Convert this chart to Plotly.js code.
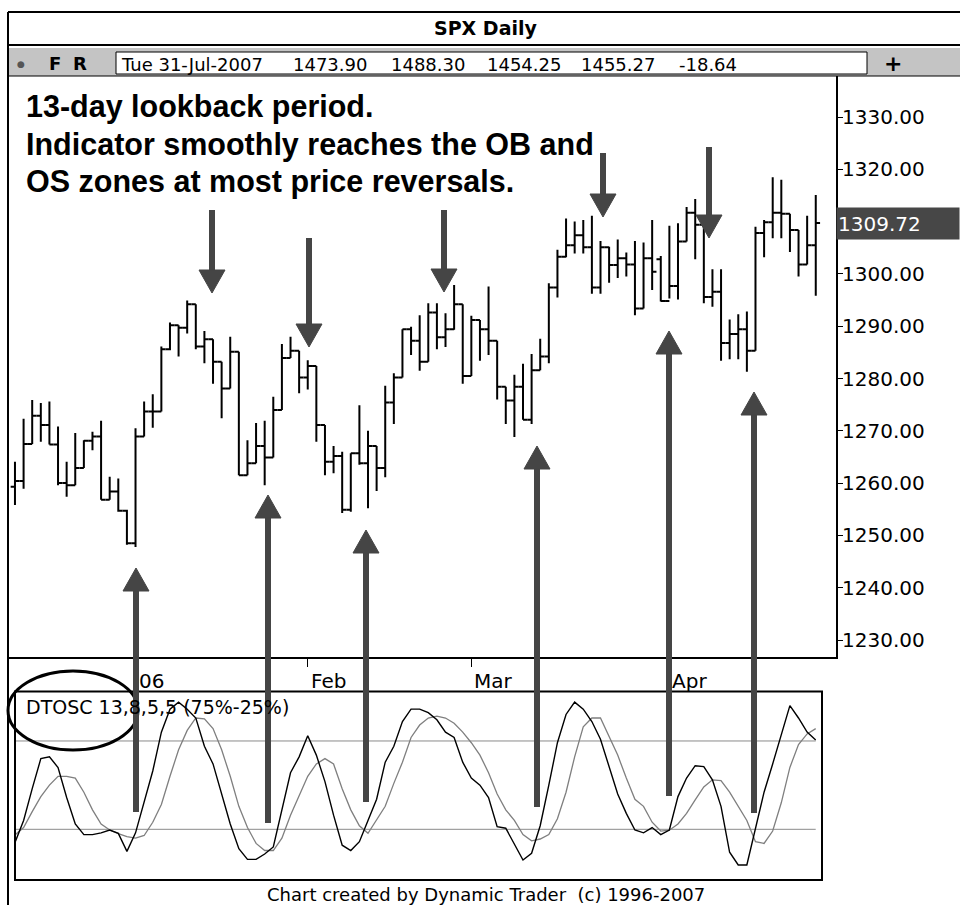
<!DOCTYPE html>
<html>
<head>
<meta charset="utf-8">
<script src="https://cdn.plot.ly/plotly-3.0.1.min.js"></script>
<style>
  html, body { margin: 0; padding: 0; background: #fff; }
  #chart { width: 960px; height: 905px; }
</style>
</head>
<body>
<div id="chart"></div>
<script>
// SPX daily bars, Dec 12 2005 .. Apr 27 2006 (bar index 0..93)
const openPx = [1259.3, 1260.4, 1267.5, 1272.9, 1271.1, 1267.4, 1260.0, 1259.6, 1262.9, 1268.1,
  1268.9, 1256.8, 1258.4, 1254.7, 1248.5, 1268.9, 1273.7, 1273.7, 1285.6, 1290.2,
  1289.7, 1294.2, 1286.1, 1287.5, 1283.2, 1278.1, 1285.1, 1261.5, 1263.8, 1267.1,
  1264.9, 1274.0, 1283.9, 1285.3, 1280.2, 1282.4, 1271.1, 1264.1, 1265.2, 1254.9,
  1265.7, 1263.8, 1267.1, 1262.9, 1275.4, 1280.2, 1289.4, 1287.2, 1283.2, 1292.6,
  1287.9, 1289.4, 1294.2, 1280.5, 1291.2, 1289.4, 1287.2, 1278.4, 1275.8, 1278.4,
  1272.1, 1281.6, 1284.2, 1297.4, 1303.3, 1305.5, 1307.4, 1305.1, 1297.4, 1305.1,
  1301.7, 1303.0, 1301.8, 1293.4, 1303.0, 1302.8, 1294.8, 1297.7, 1306.2, 1311.7,
  1309.4, 1295.6, 1296.6, 1286.8, 1288.5, 1289.4, 1285.3, 1307.8, 1309.9, 1311.7,
  1311.5, 1308.4, 1301.8, 1305.5];
const highPx = [1264.1, 1272.3, 1275.9, 1275.3, 1275.6, 1270.8, 1264.1, 1269.6, 1268.2, 1269.8,
  1271.9, 1261.2, 1260.9, 1254.9, 1270.5, 1275.6, 1277.0, 1286.1, 1290.7, 1290.2,
  1294.9, 1294.2, 1289.1, 1287.5, 1283.2, 1288.0, 1285.1, 1268.2, 1271.5, 1271.9,
  1276.5, 1286.6, 1288.0, 1285.3, 1283.5, 1282.4, 1271.1, 1267.1, 1266.0, 1265.7,
  1274.9, 1270.0, 1267.1, 1278.6, 1281.0, 1289.4, 1289.9, 1292.1, 1294.4, 1294.4,
  1292.5, 1297.9, 1294.2, 1292.0, 1291.2, 1297.6, 1287.2, 1278.4, 1280.7, 1282.8,
  1284.7, 1287.6, 1298.2, 1304.6, 1310.6, 1310.0, 1310.3, 1311.1, 1306.3, 1305.2,
  1306.6, 1304.1, 1306.3, 1306.0, 1310.3, 1303.4, 1309.2, 1309.7, 1312.8, 1314.3,
  1309.4, 1300.9, 1300.9, 1291.3, 1292.3, 1292.8, 1309.0, 1310.3, 1318.5, 1318.0,
  1311.5, 1308.4, 1311.1, 1315.1];
const lowPx = [1255.8, 1258.9, 1267.5, 1267.9, 1267.4, 1259.6, 1257.4, 1259.6, 1262.9, 1266.3,
  1256.8, 1256.8, 1254.5, 1248.2, 1247.8, 1268.9, 1270.6, 1273.7, 1285.4, 1284.2,
  1288.6, 1285.6, 1282.9, 1279.0, 1272.4, 1278.1, 1261.5, 1261.5, 1263.8, 1259.6,
  1264.9, 1274.0, 1283.9, 1277.2, 1277.9, 1267.9, 1261.5, 1261.9, 1254.3, 1254.5,
  1263.5, 1255.2, 1258.5, 1261.1, 1271.3, 1280.2, 1284.5, 1281.5, 1283.2, 1285.6,
  1286.0, 1289.3, 1279.0, 1280.5, 1283.4, 1284.5, 1276.0, 1271.3, 1268.8, 1272.1,
  1271.3, 1281.6, 1282.9, 1295.5, 1303.2, 1303.9, 1303.9, 1296.2, 1296.2, 1298.3,
  1299.2, 1299.5, 1292.1, 1293.4, 1296.9, 1294.7, 1295.3, 1295.1, 1306.2, 1302.8,
  1294.4, 1293.7, 1283.4, 1283.7, 1283.7, 1281.3, 1285.3, 1303.2, 1306.8, 1306.8,
  1304.2, 1299.5, 1301.8, 1295.8];
const closePx = [1260.4, 1267.5, 1272.9, 1271.1, 1267.4, 1260.0, 1259.6, 1262.9, 1268.1, 1268.9,
  1256.8, 1258.4, 1254.7, 1248.5, 1268.9, 1273.7, 1273.7, 1285.6, 1290.2, 1289.7,
  1294.2, 1286.1, 1287.5, 1283.2, 1278.1, 1285.1, 1261.5, 1263.8, 1267.1, 1264.9,
  1274.0, 1283.9, 1285.3, 1280.2, 1282.4, 1271.1, 1264.1, 1265.2, 1254.9, 1265.7,
  1263.8, 1267.1, 1262.9, 1275.4, 1280.2, 1289.4, 1287.2, 1283.2, 1292.6, 1287.9,
  1289.4, 1294.2, 1280.5, 1291.2, 1289.4, 1287.2, 1278.4, 1275.8, 1278.4, 1272.1,
  1281.6, 1284.2, 1297.4, 1303.3, 1305.5, 1307.4, 1305.1, 1297.4, 1305.1, 1301.7,
  1303.0, 1301.8, 1293.4, 1303.0, 1300.4, 1294.8, 1297.7, 1306.2, 1311.7, 1309.4,
  1295.6, 1296.6, 1286.8, 1288.5, 1289.4, 1285.3, 1307.8, 1309.9, 1311.7, 1311.5,
  1308.4, 1301.8, 1305.5, 1309.72];

// DTOSC 13,8,5,5 : fast (black) and slow (gray) lines
const dtoscFast = [17.5, 30, 48, 65, 66, 60, 43, 28, 22, 22,
  23, 24.6, 22.7, 12.5, 23, 41, 58, 80, 93, 97,
  93, 88, 72, 62, 45, 28, 14, 8, 8, 11,
  15, 36, 57, 66, 78, 67, 52, 33, 16, 13,
  18, 30, 42, 63, 72, 86, 93, 93, 91, 87,
  80, 77, 63, 54, 50, 43, 26.5, 25.6, 17, 7.6,
  11.4, 27, 50, 74, 90, 97, 93, 86, 76, 60,
  45, 34, 24.6, 23, 26, 22, 24.6, 43.5, 54, 61,
  60.5, 53, 38, 12, 4.8, 4.8, 26, 46, 62, 79,
  95, 88, 80, 75.6];
const dtoscSlow = [21.8, 26, 35, 43.5, 50, 55, 55, 54, 46, 36,
  28, 24.6, 22.5, 20.8, 20, 21.5, 29, 39, 55, 70,
  81, 88, 87.5, 82, 70, 55, 38, 26, 17, 13,
  13, 20, 33, 44, 55, 62, 65, 62, 48, 36,
  27, 22.7, 30, 38, 51, 63, 77, 84, 88, 89,
  88, 85, 80, 74, 67, 57, 45, 36, 30, 22,
  18.5, 19.5, 22, 31, 46, 66, 83, 88, 88, 77,
  67, 54, 42, 38, 29, 24, 24.5, 28, 34, 41.6,
  49, 53, 52.5, 46, 38, 30, 18, 17, 24, 40,
  60, 73, 79, 82];
const obLevel = 75;
const osLevel = 25;

const barIdx = closePx.map((_, i) => i);
const monthTickIdx = [14, 34, 53, 76];
const monthTickText = ['06', 'Feb', 'Mar', 'Apr'];
const priceTicks = [1230, 1240, 1250, 1260, 1270, 1280, 1290, 1300, 1320, 1330];

const infoDate = 'Tue 31-Jul-2007';
const infoValues = ['1473.90', '1488.30', '1454.25', '1455.27', '-18.64'];
const noteLines = ['13-day lookback period.',
  'Indicator smoothly reaches the OB and',
  'OS zones at most price reversals.'];

// pixel -> paper helpers
const W = 960, H = 905;
const px = x => x / W;
const py = y => 1 - y / H;

const FONT = 'DejaVu Sans, Verdana, sans-serif';
const ARROW = '#454545';

// arrows in pixels: x, tip, tail
const arrows = [
  { x: 212, tip: 293, tail: 210 },
  { x: 309, tip: 347, tail: 238 },
  { x: 444, tip: 292, tail: 210 },
  { x: 603, tip: 217, tail: 153 },
  { x: 709, tip: 238, tail: 147 },
  { x: 136, tip: 568, tail: 812 },
  { x: 268, tip: 495, tail: 823 },
  { x: 366, tip: 530, tail: 802 },
  { x: 537, tip: 446, tail: 807 },
  { x: 669, tip: 331, tail: 796 },
  { x: 754, tip: 392, tail: 813 }
];

function arrowShapes(a) {
  const dir = a.tail > a.tip ? 1 : -1;
  const headLen = 23, half = 13;
  const base = a.tip + dir * headLen;
  return [
    { type: 'line', xref: 'paper', yref: 'paper',
      x0: px(a.x), x1: px(a.x), y0: py(a.tail), y1: py(base - dir * 2),
      line: { color: ARROW, width: 6 } },
    { type: 'path', xref: 'paper', yref: 'paper',
      path: 'M ' + px(a.x - half) + ' ' + py(base) + ' L ' + px(a.x + half) + ' ' + py(base) +
            ' L ' + px(a.x) + ' ' + py(a.tip) + ' Z',
      fillcolor: ARROW, line: { color: ARROW, width: 1 } }
  ];
}

// text helper: pixel-placed annotation
function label(text, x, y, size, opts) {
  return Object.assign({
    text: text, xref: 'paper', yref: 'paper', x: px(x), y: py(y),
    xanchor: 'center', yanchor: 'middle', showarrow: false,
    font: { family: FONT, size: size, color: '#000' }
  }, opts || {});
}

const traces = [
  {
    type: 'ohlc', x: barIdx, open: openPx, high: highPx, low: lowPx, close: closePx,
    xaxis: 'x', yaxis: 'y', tickwidth: 0.5,
    increasing: { line: { color: '#000', width: 2 } },
    decreasing: { line: { color: '#000', width: 2 } },
    hoverinfo: 'skip'
  },
  {
    type: 'scatter', mode: 'lines', x: barIdx, y: dtoscSlow, xaxis: 'x2', yaxis: 'y2',
    line: { color: '#7f7f7f', width: 1.3 }, hoverinfo: 'skip'
  },
  {
    type: 'scatter', mode: 'lines', x: barIdx, y: dtoscFast, xaxis: 'x2', yaxis: 'y2',
    line: { color: '#000', width: 1.4 }, hoverinfo: 'skip'
  }
];

let shapes = [
  // outer frame
  { type: 'line', xref: 'paper', yref: 'paper', x0: px(8), x1: px(8), y0: py(12), y1: 0,
    line: { color: '#000', width: 2 } },
  { type: 'line', xref: 'paper', yref: 'paper', x0: px(8), x1: 1, y0: py(12), y1: py(12),
    line: { color: '#000', width: 2 } },
  { type: 'line', xref: 'paper', yref: 'paper', x0: px(8), x1: 1, y0: py(45), y1: py(45),
    line: { color: '#000', width: 2 } },
  // info bar
  { type: 'rect', xref: 'paper', yref: 'paper', x0: px(9), x1: 1, y0: py(76), y1: py(48),
    fillcolor: '#c4c4c4', line: { width: 0 } },
  { type: 'rect', xref: 'paper', yref: 'paper', x0: px(116), x1: px(867), y0: py(74), y1: py(52),
    fillcolor: '#fff', line: { color: '#000', width: 1 } },
  { type: 'line', xref: 'paper', yref: 'paper', x0: px(8), x1: 1, y0: py(76), y1: py(76),
    line: { color: '#000', width: 1 } },
  // oscillator box
  { type: 'rect', xref: 'paper', yref: 'paper', x0: px(15), x1: px(822), y0: py(880), y1: py(691.5),
    line: { color: '#000', width: 2 } },
  // OB / OS levels
  { type: 'line', xref: 'x2', yref: 'y2', x0: 0, x1: barIdx.length - 1, y0: obLevel, y1: obLevel,
    line: { color: '#8a8a8a', width: 1 }, layer: 'below' },
  { type: 'line', xref: 'x2', yref: 'y2', x0: 0, x1: barIdx.length - 1, y0: osLevel, y1: osLevel,
    line: { color: '#8a8a8a', width: 1 }, layer: 'below' },
  // ellipse round the indicator name
  { type: 'circle', xref: 'paper', yref: 'paper', x0: px(8), x1: px(138), y0: py(750), y1: py(671),
    line: { color: '#000', width: 3 } }
];
arrows.forEach(a => { shapes = shapes.concat(arrowShapes(a)); });

const annotations = [
  label('<b>SPX Daily</b>', 485, 28, 19),
  label('●', 21, 64, 9, { font: { family: FONT, size: 9, color: '#555' } }),
  label('<b>F</b>', 55, 63, 18),
  label('<b>R</b>', 80, 63, 18),
  label('<b>+</b>', 893, 63, 22),
  label(infoDate, 119, 64, 18, { xanchor: 'left' }),
  label('Chart created by Dynamic Trader  (c) 1996-2007', 486, 894, 18),
  label('DTOSC 13,8,5,5 (75%-25%)', 24, 707, 19, { xanchor: 'left' }),
  { text: closePx[closePx.length - 1].toFixed(2), xref: 'paper', yref: 'y',
    x: px(836), y: closePx[closePx.length - 1], xanchor: 'left', yanchor: 'middle', align: 'left',
    width: 120, height: 29, bgcolor: '#474747', borderpad: 1, showarrow: false,
    font: { family: FONT, size: 20, color: '#fff' } }
];
const infoX = [291, 389, 485, 579, 677];
infoValues.forEach((v, i) => annotations.push(label(v, infoX[i], 64, 18, { xanchor: 'left' })));
const noteY = [107, 144, 182];
noteLines.forEach((t, i) => annotations.push(label('<b>' + t + '</b>', 24, noteY[i], 30.5,
  { xanchor: 'left', font: { family: 'Liberation Sans, Arial, sans-serif', size: 30.5, color: '#000' } })));
monthTickIdx.forEach((m, i) => annotations.push({
  text: monthTickText[i], xref: 'x', yref: 'paper', x: m, y: py(681),
  xanchor: 'left', yanchor: 'middle', xshift: 1, showarrow: false,
  font: { family: FONT, size: 20, color: '#000' } }));

const layout = {
  width: W, height: H,
  margin: { l: 0, r: 0, t: 0, b: 0 },
  paper_bgcolor: '#fff', plot_bgcolor: 'rgba(0,0,0,0)',
  showlegend: false,
  xaxis: {
    domain: [px(8), px(836)], range: [-0.81, 95.35], anchor: 'y',
    showgrid: false, zeroline: false, showline: true, linecolor: '#000', linewidth: 2,
    ticks: 'outside', ticklen: 8, tickcolor: '#000', tickwidth: 1,
    tickvals: monthTickIdx, showticklabels: false,
    rangeslider: { visible: false }, fixedrange: true
  },
  yaxis: {
    domain: [py(657), py(76)], range: [1226.75, 1337.84], anchor: 'x', side: 'right',
    showgrid: false, zeroline: false, showline: true, linecolor: '#000', linewidth: 2,
    ticks: 'outside', ticklen: 5, tickcolor: '#000', tickwidth: 1, ticklabelstandoff: -5,
    tickvals: priceTicks, tickformat: '.2f',
    tickfont: { family: FONT, size: 20, color: '#000' }, fixedrange: true
  },
  xaxis2: {
    domain: [px(15), px(822)], range: [0, 93.73], anchor: 'y2', visible: false, fixedrange: true
  },
  yaxis2: {
    domain: [py(880), py(691.5)], range: [-3.7, 103], anchor: 'x2', visible: false, fixedrange: true
  },
  shapes: shapes,
  annotations: annotations
};

Plotly.newPlot('chart', traces, layout, { displayModeBar: false, staticPlot: true });
</script>
</body>
</html>
